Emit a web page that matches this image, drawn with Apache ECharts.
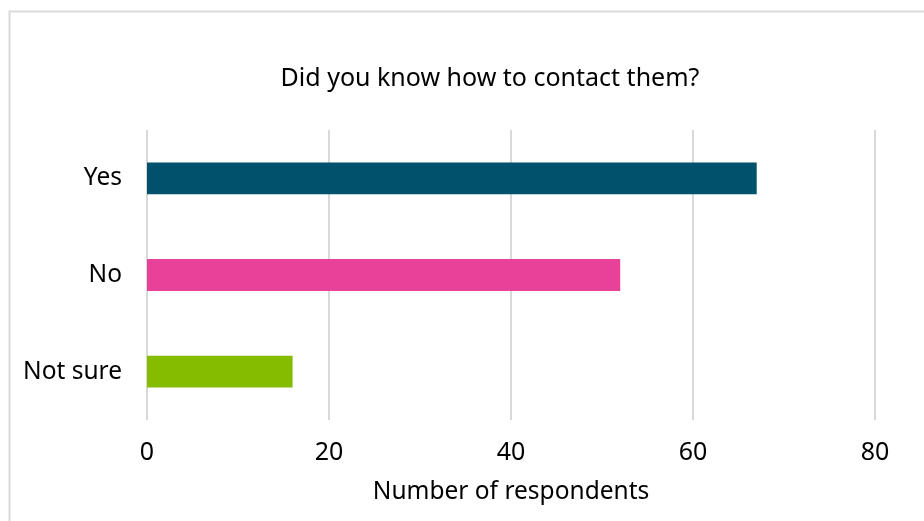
<!DOCTYPE html>
<html>
<head>
<meta charset="utf-8">
<script src="https://cdn.jsdelivr.net/npm/echarts@6/dist/echarts.min.js"></script>
<style>
  html, body { margin: 0; padding: 0; background: #ffffff; }
  #chart { width: 924px; height: 521px; }
</style>
</head>
<body>
<div id="chart"></div>
<script>
// Survey answers, top to bottom
const categories = ['Yes', 'No', 'Not sure'];
const respondents = [67, 52, 16];
const barColors = ['#02516c', '#e8419a', '#86bc00'];
const xTicks = [0, 20, 40, 60, 80];

const FONT = '"Noto Sans", sans-serif';
const chart = echarts.init(document.getElementById('chart'), null, { renderer: 'canvas' });

chart.setOption({
  backgroundColor: '#ffffff',
  animation: false,
  title: {
    text: 'Did you know how to contact them?',
    left: 485, top: 61, textAlign: 'center',
    textStyle: { fontFamily: FONT, fontSize: 25, fontWeight: 'normal', color: '#000000' }
  },
  graphic: [{
    type: 'rect',
    shape: { x: 9.5, y: 11.5, width: 940, height: 540 },
    style: { fill: 'none', stroke: '#d9d9d9', lineWidth: 2 },
    silent: true
  }],
  grid: { left: 147, right: 49, top: 130, bottom: 101 },
  xAxis: {
    type: 'value',
    min: xTicks[0], max: xTicks[xTicks.length - 1], interval: 20,
    name: 'Number of respondents',
    nameLocation: 'middle', nameGap: 60,
    nameTextStyle: { fontFamily: FONT, fontSize: 24.5, color: '#000000' },
    axisLine: { show: false },
    axisTick: { show: false },
    axisLabel: { fontFamily: FONT, fontSize: 25, color: '#000000', margin: 20 },
    splitLine: { show: true, lineStyle: { color: '#d9d9d9', width: 2 } }
  },
  yAxis: {
    type: 'category',
    data: categories,
    inverse: true,
    axisLine: { show: false },
    axisTick: { show: false },
    axisLabel: { fontFamily: FONT, fontSize: 24.5, color: '#000000', margin: 25 },
    splitLine: { show: false }
  },
  series: [{
    type: 'bar',
    data: respondents.map((v, i) => ({ value: v, itemStyle: { color: barColors[i] } })),
    barWidth: '33%'
  }]
});
</script>
</body>
</html>
